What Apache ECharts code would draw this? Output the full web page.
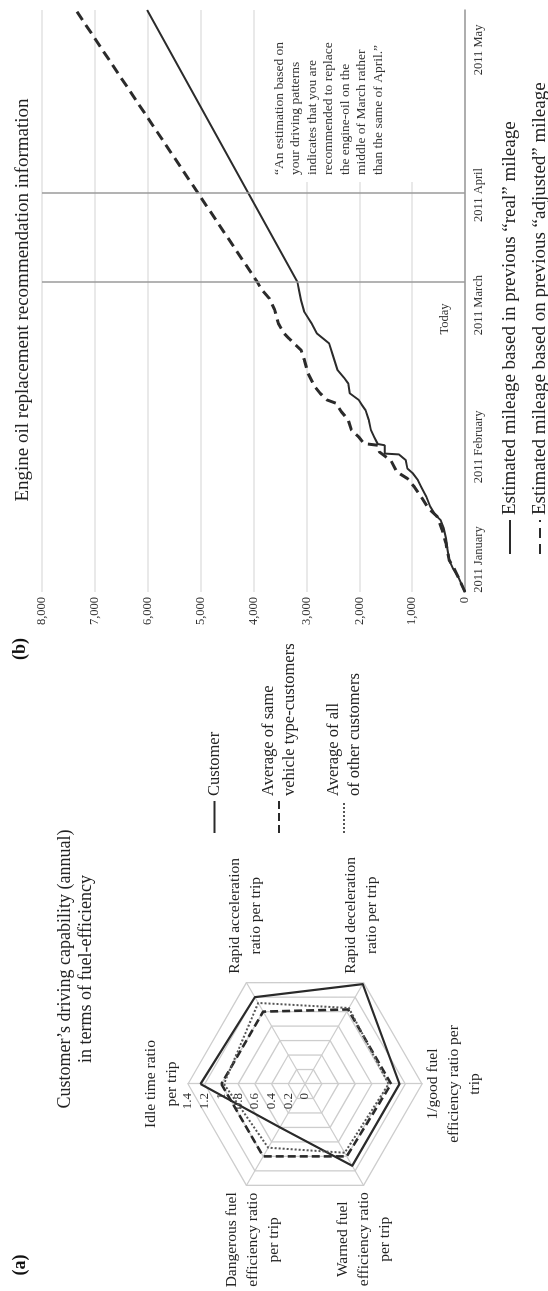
<!DOCTYPE html>
<html>
<head>
<meta charset="utf-8">
<script src="https://cdn.jsdelivr.net/npm/echarts@6/dist/echarts.min.js"></script>
<style>
html,body{margin:0;padding:0;width:548px;height:1291px;overflow:hidden;background:#fff;}
#rot{position:absolute;left:0;top:0;width:1291px;height:548px;transform-origin:0 0;transform:translateY(1291px) rotate(-90deg);}
</style>
</head>
<body>
<div id="rot"></div>
<script>
const FONT = '"Liberation Serif", "Times New Roman", serif';

// ---------- Panel (a): radar ----------
const radarIndicatorNames = [
  'Idle time ratio\nper trip',
  'Dangerous fuel\nefficiency ratio\nper trip',
  'Warned fuel\nefficiency ratio\nper trip',
  '1/good fuel\nefficiency ratio per\ntrip',
  'Rapid deceleration\nratio per trip',
  'Rapid acceleration\nratio per trip'
];
const radarMax = 1.4;
const customerScores     = [1.25, 0.60, 1.13, 1.13, 1.38, 1.20];
const sameVehicleScores  = [1.00, 1.00, 1.00, 1.03, 1.03, 1.00];
const allCustomersScores = [0.97, 0.88, 0.95, 1.00, 1.05, 1.12];
const radarSeriesNames = ['Customer', 'Average of same\nvehicle type-customers', 'Average of all\nof other customers'];
const radarTitle = 'Customer\u2019s driving capability (annual)\nin terms of fuel-efficiency';

// ---------- Panel (b): mileage (x = days since 2011-01-01) ----------
const realDays    = [0, 3.7, 5.7, 7.7, 10.2, 12.9, 15.3, 17.3, 18.5, 20.6, 22.9, 25.3, 26.9, 28.6, 29.7, 31.7, 33.1, 33.3, 35.3, 35.6, 37.3, 39.0, 41.4, 43.7, 45.0, 46.2, 47.8, 50.2, 51.4, 53.4, 57.4, 59.8, 62.2, 64.6, 67.4, 70.2, 72.6, 74.6, 140];
const realMileage = [0, 130, 230, 300, 330, 360, 400, 460, 560, 660, 730, 830, 890, 990, 1090, 1120, 1250, 1520, 1520, 1650, 1720, 1780, 1820, 1880, 1950, 2010, 2180, 2210, 2280, 2410, 2510, 2570, 2800, 2900, 3040, 3100, 3140, 3170, 6010];
const adjustedDays    = [0, 5.5, 7.7, 11.7, 14.9, 18.2, 20.1, 22.9, 25.3, 27.3, 28.9, 31.6, 33.7, 35.3, 35.7, 37.3, 39.0, 41.4, 43.4, 45.4, 46.2, 47.8, 49.4, 52.6, 55.9, 58.2, 59.4, 61.0, 62.3, 64.6, 67.9, 70.6, 73.0, 74.6, 140];
const adjustedMileage = [0, 200, 300, 360, 430, 530, 690, 830, 960, 1090, 1290, 1400, 1620, 1650, 1910, 2010, 2150, 2210, 2340, 2440, 2610, 2740, 2840, 2970, 3040, 3100, 3200, 3330, 3430, 3530, 3600, 3700, 3860, 3930, 7360];
const monthLabelDays = [7.8, 34.9, 69, 95.5, 130.4];
const monthLabels = ['2011 January', '2011 February', '2011 March', '2011 April', '2011 May'];
const todayDay = 74.6;
const replaceDay = 95.9;
const mileageSeriesNames = ['Estimated mileage based in previous \u201creal\u201d mileage', 'Estimated mileage based on previous \u201cadjusted\u201d mileage'];
const mileageTitle = 'Engine oil replacement recommendation information';
const annotationText = '\u201cAn estimation based on\nyour driving patterns\nindicates that you are\nrecommended to replace\nthe engine-oil on the\nmiddle of March rather\nthan the same of April.\u201d';

// ---------- styles ----------
const radarLineStyles = [
  {color: '#2a2a2a', width: 2.2, type: 'solid'},
  {color: '#2a2a2a', width: 2.6, type: [8, 4]},
  {color: '#555555', width: 2.0, type: [2, 2]}
];
const nameLayout = [
  {gap: 6,    pad: [0, 0, 0, 0]},
  {gap: 8,    pad: [20, 0, 0, 0]},
  {gap: 8,    pad: [0, 0, 8, 0]},
  {gap: 0,    pad: [0, 0, 0, 0]},
  {gap: 10.4, pad: [0, 0, 15, 0]},
  {gap: 10.4, pad: [8, 0, 0, 0]}
];

const zip = (a, b) => a.map((v, i) => [v, b[i]]);
const radarScores = [customerScores, sameVehicleScores, allCustomersScores];

const chart = echarts.init(document.getElementById('rot'), null, {renderer: 'canvas'});

const legendText = {fontFamily: FONT, fontSize: 16.5, color: '#222', lineHeight: 21};
const hiddenSymbol = {opacity: 0, color: 'rgba(0,0,0,0)', borderWidth: 0};

const option = {
  backgroundColor: '#fff',
  animation: false,
  title: [
    {text: mileageTitle, left: 991, top: 12, textAlign: 'center', padding: 0,
     textStyle: {fontFamily: FONT, fontSize: 19, fontWeight: 'normal', color: '#222', lineHeight: 22}},
    {text: radarTitle, left: 322, top: 55, textAlign: 'center', padding: 0,
     textStyle: {fontFamily: FONT, fontSize: 18, fontWeight: 'normal', color: '#222', lineHeight: 21}}
  ],
  legend: [
    {data: mileageSeriesNames, orient: 'vertical', left: 736, top: 499, height: 80, itemWidth: 34, itemHeight: 14, itemGap: 8,
     padding: 0, selectedMode: false, itemStyle: hiddenSymbol,
     textStyle: {fontFamily: FONT, fontSize: 19, color: '#222', lineHeight: 22}},
    {data: [radarSeriesNames[0]], orient: 'vertical', left: 457, top: 204, height: 80, itemWidth: 32, itemHeight: 14,
     padding: 0, selectedMode: false, itemStyle: hiddenSymbol, textStyle: legendText},
    {data: [{name: radarSeriesNames[1], textStyle: {padding: [21, 0, 0, 0]}}], orient: 'vertical', left: 457, top: 247.5, height: 80,
     itemWidth: 32, itemHeight: 14, padding: 0, selectedMode: false, itemStyle: hiddenSymbol, textStyle: legendText},
    {data: [{name: radarSeriesNames[2], textStyle: {padding: [21, 0, 0, 0]}}], orient: 'vertical', left: 457, top: 312.5, height: 80,
     itemWidth: 32, itemHeight: 14, padding: 0, selectedMode: false, itemStyle: hiddenSymbol, textStyle: legendText}
  ],
  grid: [
    {left: 699, top: 42, width: 582, height: 423, containLabel: false, outerBoundsMode: 'none'},
    {left: 207, top: 188, width: 10, height: 117, containLabel: false, outerBoundsMode: 'none'}
  ],
  xAxis: [
    {type: 'value', gridIndex: 0, min: 0, max: 140,
     axisLine: {show: true, onZero: false, lineStyle: {color: '#9a9a9a', width: 1.5}},
     axisTick: {show: false}, splitLine: {show: false},
     axisLabel: {customValues: monthLabelDays, formatter: (v, i) => monthLabels[monthLabelDays.indexOf(v)] || monthLabels[i],
                 fontFamily: FONT, fontSize: 12.5, color: '#333', margin: 7}},
    {type: 'value', gridIndex: 1, show: false, min: 0, max: 1}
  ],
  yAxis: [
    {type: 'value', gridIndex: 0, min: 0, max: 8000, interval: 1000,
     axisLine: {show: false}, axisTick: {show: false},
     splitLine: {show: true, lineStyle: {color: '#e2e2e2', width: 1.5}},
     axisLabel: {formatter: v => v.toLocaleString('en-US'), fontFamily: FONT, fontSize: 12.5, color: '#333', margin: 5}},
    {type: 'value', gridIndex: 1, min: 0, max: radarMax, interval: 0.2, position: 'left',
     axisLine: {show: false}, axisTick: {show: false}, splitLine: {show: false},
     axisLabel: {fontFamily: FONT, fontSize: 13, color: '#333', margin: 9}}
  ],
  radar: {
    center: [207, 305], radius: 117, startAngle: 90, shape: 'polygon', splitNumber: 7,
    indicator: radarIndicatorNames.map((n, i) => ({name: n, min: 0, max: radarMax,
      nameGap: nameLayout[i].gap, nameTextStyle: {padding: nameLayout[i].pad}})),
    nameGap: 10,
    axisName: {
      color: '#222', fontFamily: FONT, fontSize: 15.5, lineHeight: 21,
      formatter: name => name.split('\n').map(l => '{c|' + l + '}').join('\n'),
      rich: {c: {align: 'center', fontFamily: FONT, fontSize: 15.5, lineHeight: 21, color: '#222'}}
    },
    splitLine: {lineStyle: {color: '#cdcdcd', width: 1.3}},
    splitArea: {show: false},
    axisLine: {lineStyle: {color: '#cdcdcd', width: 1.3}},
    axisLabel: {show: false},
    axisTick: {show: false}
  },
  graphic: {elements: [
    {type: 'text', x: 26, y: 20, style: {text: '(a)', font: 'bold 18px ' + FONT, fill: '#111', align: 'center', verticalAlign: 'middle'}},
    {type: 'text', x: 642, y: 20, style: {text: '(b)', font: 'bold 18px ' + FONT, fill: '#111', align: 'center', verticalAlign: 'middle'}},
    {type: 'rect', z: 1, shape: {x: 1109, y: 262, width: 172, height: 193}, style: {fill: '#fff'}},
    {type: 'text', z: 2, x: 1116, y: 271, style: {text: annotationText, font: '13.5px ' + FONT, lineHeight: 16.5, fill: '#333', align: 'left', verticalAlign: 'top'}},
    {type: 'text', z: 2, x: 972, y: 445, style: {text: 'Today', font: '12.5px ' + FONT, fill: '#333', align: 'center', verticalAlign: 'middle'}}
  ]},
  series: [
    {type: 'line', name: mileageSeriesNames[0], xAxisIndex: 0, yAxisIndex: 0, data: zip(realDays, realMileage),
     symbol: 'none', showSymbol: false, z: 3,
     lineStyle: {color: '#2b2b2b', width: 2}, itemStyle: {color: '#2b2b2b'},
     markLine: {symbol: 'none', silent: true, label: {show: false},
                lineStyle: {color: '#9a9a9a', width: 1.5, type: 'solid'},
                data: [{xAxis: todayDay}, {xAxis: replaceDay}]}},
    {type: 'line', name: mileageSeriesNames[1], xAxisIndex: 0, yAxisIndex: 0, data: zip(adjustedDays, adjustedMileage),
     symbol: 'none', showSymbol: false, z: 3,
     lineStyle: {color: '#2b2b2b', width: 3, type: [10, 6]}, itemStyle: {color: '#2b2b2b'}},
    {type: 'radar', radarIndex: 0, symbol: 'none', z: 3,
     data: radarSeriesNames.map((n, i) => ({name: n, value: radarScores[i], lineStyle: radarLineStyles[i], itemStyle: {color: radarLineStyles[i].color}}))},
  ].concat(radarSeriesNames.map((n, i) => ({
    type: 'line', name: n, xAxisIndex: 1, yAxisIndex: 1, data: [], symbol: 'none', showSymbol: false,
    lineStyle: radarLineStyles[i], itemStyle: {color: radarLineStyles[i].color}
  })))
};
chart.setOption(option);
</script>
</body>
</html>
